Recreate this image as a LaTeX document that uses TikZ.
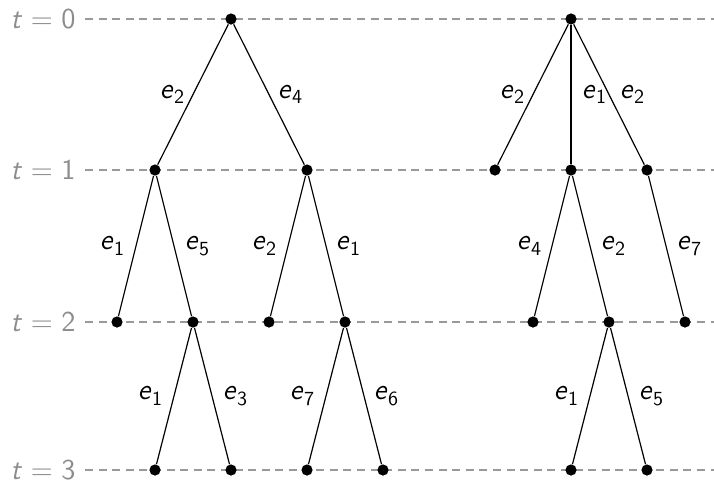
\documentclass[tikz,border=0pt]{standalone}
\newcommand\el[1]{\textsf{\itshape e}\kern0.3pt\raisebox{-0.45ex}{\normalsize\textsf{#1}}}
\newcommand\tl[1]{\textsf{\itshape t}\kern0.3em\textsf{=}\kern0.3em\textsf{#1}}
\begin{document}
\begin{tikzpicture}[x=0.5pt,y=-0.5pt,
  dot/.style={circle,fill=black,inner sep=0pt,minimum size=5.6pt},
  edge/.style={line width=0.6pt},
  elab/.style={font=\Large,inner sep=0pt},
  lvl/.style={font=\Large,text=black!45,anchor=east,inner sep=0pt},
  guide/.style={black!40,line width=0.55pt,dash pattern=on 4pt off 2.8pt}]
\useasboundingbox (0,0) rectangle (714,484);
% level labels and guides
\foreach \i/\y in {0/19,1/170,2/322,3/470}{
  \node[lvl] (t\i) at (76,\y) {\tl{\i}};
  \coordinate (g\i) at (714,\y);
  \draw[guide] ([xshift=4.5pt]t\i.east) -- (g\i);
}
% left tree
\node[dot] (a) at (231,19) {};
\node[dot] (b1) at (155,170) {};
\node[dot] (b2) at (307,170) {};
\node[dot] (c1) at (117,322) {};
\node[dot] (c2) at (193,322) {};
\node[dot] (c3) at (269,322) {};
\node[dot] (c4) at (345,322) {};
\node[dot] (d1) at (155,470) {};
\node[dot] (d2) at (231,470) {};
\node[dot] (d3) at (307,470) {};
\node[dot] (d4) at (383,470) {};
\draw[edge] (a) -- node[elab,midway,xshift=-10.5pt] {\el{2}} (b1);
\draw[edge] (a) -- node[elab,midway,xshift=10.5pt] {\el{4}} (b2);
\draw[edge] (b1) -- node[elab,midway,xshift=-12pt] {\el{1}} (c1);
\draw[edge] (b1) -- node[elab,midway,xshift=11.5pt] {\el{5}} (c2);
\draw[edge] (b2) -- node[elab,midway,xshift=-12pt] {\el{2}} (c3);
\draw[edge] (b2) -- node[elab,midway,xshift=11pt] {\el{1}} (c4);
\draw[edge] (c2) -- node[elab,midway,xshift=-12pt] {\el{1}} (d1);
\draw[edge] (c2) -- node[elab,midway,xshift=11.5pt] {\el{3}} (d2);
\draw[edge] (c4) -- node[elab,midway,xshift=-12pt] {\el{7}} (d3);
\draw[edge] (c4) -- node[elab,midway,xshift=11pt] {\el{6}} (d4);
% right tree
\node[dot] (r) at (571,19) {};
\node[dot] (s1) at (495,170) {};
\node[dot] (s2) at (571,170) {};
\node[dot] (s3) at (647,170) {};
\node[dot] (u1) at (533,322) {};
\node[dot] (u2) at (609,322) {};
\node[dot] (u3) at (685,322) {};
\node[dot] (v1) at (571,470) {};
\node[dot] (v2) at (647,470) {};
\draw[edge] (r) -- node[elab,midway,xshift=-10.5pt] {\el{2}} (s1);
\draw[edge] (r) -- node[elab,midway,xshift=11.5pt] {\el{1}} (s2);
\draw[edge] (r) -- node[elab,midway,xshift=11.5pt] {\el{2}} (s3);
\draw[edge] (s2) -- node[elab,midway,xshift=-11.5pt] {\el{4}} (u1);
\draw[edge] (s2) -- node[elab,midway,xshift=11.5pt] {\el{2}} (u2);
\draw[edge] (s3) -- node[elab,midway,xshift=11.5pt] {\el{7}} (u3);
\draw[edge] (u2) -- node[elab,midway,xshift=-12pt] {\el{1}} (v1);
\draw[edge] (u2) -- node[elab,midway,xshift=11.5pt] {\el{5}} (v2);
\end{tikzpicture}
\end{document}
